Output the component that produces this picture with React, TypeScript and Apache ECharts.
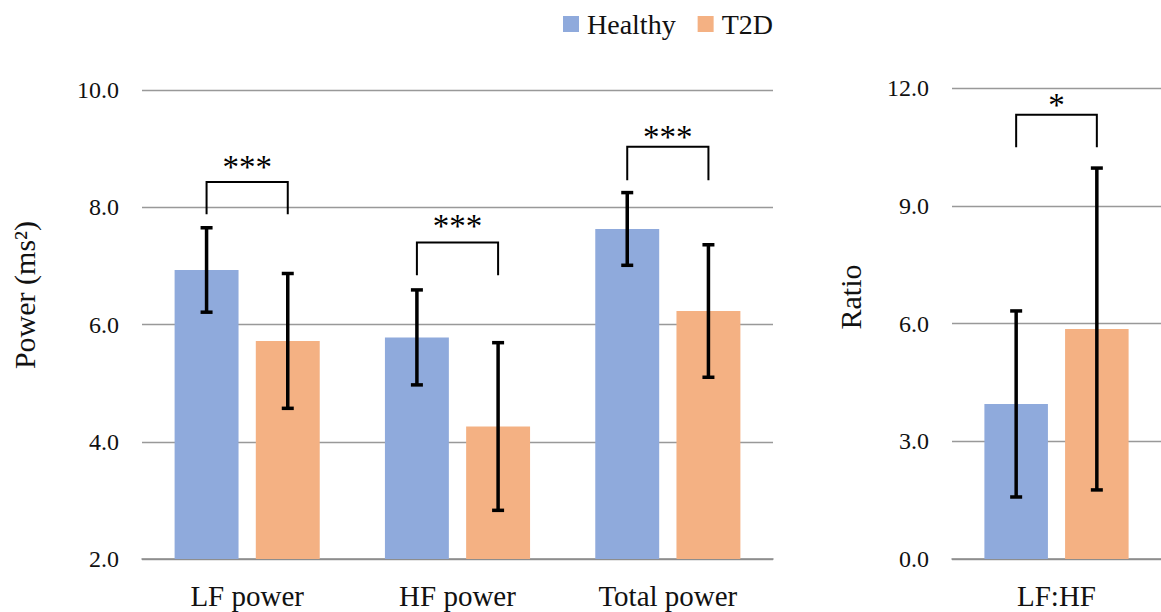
import React, { useEffect, useRef } from "react";
import * as echarts from "echarts";

const categories = ["LF power", "HF power", "Total power"];
const healthyPower = [6.93, 5.78, 7.63];
const healthyPowerErr = [0.72, 0.81, 0.62];
const t2dPower = [5.72, 4.26, 6.23];
const t2dPowerErr = [1.15, 1.43, 1.13];

const ratioCategories = ["LF:HF"];
const healthyRatio = [3.95];
const healthyRatioErr = [2.37];
const t2dRatio = [5.86];
const t2dRatioErr = [4.1];

const powerBracketTop = [8.43, 7.4, 9.03];
const powerBracketBottom = [7.88, 6.84, 8.46];
const powerStarPos = [8.78, 7.77, 9.29];
const powerStars = ["***", "***", "***"];

const ratioBracketTop = [11.32];
const ratioBracketBottom = [10.49];
const ratioStarPos = [11.7];
const ratioStars = ["*"];

const powerTicks = [2, 10, 2];
const ratioTicks = [0, 12, 3];

const BLUE = "#8FAADC";
const ORANGE = "#F4B183";
const FONT = "Liberation Serif";
const BAR_GAP = 0.27;
const CAT_GAP = 0.31;

function barOffset(api: any) {
  const band = api.size([1, 0])[0];
  const bw = (band * (1 - CAT_GAP)) / (2 + BAR_GAP);
  return (bw * (1 + BAR_GAP)) / 2;
}

function errorSeries(name: string, means: number[], errs: number[], side: number, axis: number) {
  return {
    type: "custom",
    name,
    xAxisIndex: axis,
    yAxisIndex: axis,
    z: 5,
    silent: true,
    encode: { x: 0, y: [1, 2] },
    data: means.map((m, i) => [i, m - errs[i], m + errs[i]]),
    renderItem: (params: any, api: any) => {
      const off = barOffset(api) * side;
      const lo = api.coord([api.value(0), api.value(1)]);
      const hi = api.coord([api.value(0), api.value(2)]);
      const x = lo[0] + off;
      const cap = 6;
      const style = { stroke: "#000", lineWidth: 3.5, fill: "none" };
      return {
        type: "group",
        children: [
          { type: "line", shape: { x1: x, y1: lo[1], x2: x, y2: hi[1] }, style },
          { type: "line", shape: { x1: x - cap, y1: lo[1], x2: x + cap, y2: lo[1] }, style },
          { type: "line", shape: { x1: x - cap, y1: hi[1], x2: x + cap, y2: hi[1] }, style },
        ],
      };
    },
  };
}

function bracketSeries(tops: number[], bottoms: number[], starPos: number[], stars: string[], axis: number) {
  return {
    type: "custom",
    xAxisIndex: axis,
    yAxisIndex: axis,
    z: 6,
    silent: true,
    encode: { x: 0, y: [1, 2, 3] },
    data: tops.map((t, i) => [i, t, bottoms[i], starPos[i]]),
    renderItem: (params: any, api: any) => {
      const off = barOffset(api);
      const top = api.coord([api.value(0), api.value(1)]);
      const bot = api.coord([api.value(0), api.value(2)]);
      const star = api.coord([api.value(0), api.value(3)]);
      const x1 = top[0] - off;
      const x2 = top[0] + off;
      return {
        type: "group",
        children: [
          {
            type: "polyline",
            shape: { points: [[x1, bot[1]], [x1, top[1]], [x2, top[1]], [x2, bot[1]]] },
            style: { stroke: "#000", lineWidth: 2, fill: "none" },
          },
          {
            type: "text",
            x: top[0],
            y: star[1] + 5,
            style: {
              text: stars[params.dataIndex],
              fontFamily: FONT,
              fontSize: 33,
              fill: "#000",
              align: "center",
              verticalAlign: "middle",
            },
          },
        ],
      };
    },
  };
}

export default function App() {
  const ref = useRef<HTMLDivElement>(null);
  useEffect(() => {
    const chart = echarts.init(ref.current!, undefined, { renderer: "svg" });
    const axisLabel = { fontFamily: FONT, fontSize: 24, color: "#111", margin: 23, formatter: (v: number) => v.toFixed(1) };
    const catLabel = { fontFamily: FONT, fontSize: 29, color: "#111", margin: 22 };
    const barCommon = { barGap: `${BAR_GAP * 100}%`, barCategoryGap: `${CAT_GAP * 100}%` };
    chart.setOption({
      animation: false,
      textStyle: { fontFamily: FONT },
      legend: {
        data: ["Healthy", "T2D"],
        left: 558,
        top: 5,
        icon: "rect",
        itemWidth: 16,
        itemHeight: 16,
        itemGap: 22,
        textStyle: { fontFamily: FONT, fontSize: 28, color: "#111", padding: [0, 0, 0, 3] },
      },
      grid: [
        { left: 142, top: 90, width: 631, height: 469 },
        { left: 952, top: 88, width: 213, height: 471 },
      ],
      xAxis: [
        {
          type: "category",
          gridIndex: 0,
          data: categories,
          axisTick: { show: false },
          axisLine: { lineStyle: { color: "#8a8a8a", width: 1.5 } },
          axisLabel: catLabel,
        },
        {
          type: "category",
          gridIndex: 1,
          data: ratioCategories,
          axisTick: { show: false },
          axisLine: { lineStyle: { color: "#8a8a8a", width: 1.5 } },
          axisLabel: catLabel,
        },
      ],
      yAxis: [
        {
          type: "value",
          gridIndex: 0,
          min: powerTicks[0],
          max: powerTicks[1],
          interval: powerTicks[2],
          axisLine: { show: false },
          axisTick: { show: false },
          splitLine: { lineStyle: { color: "#999", width: 1.3 } },
          axisLabel,
        },
        {
          type: "value",
          gridIndex: 1,
          min: ratioTicks[0],
          max: ratioTicks[1],
          interval: ratioTicks[2],
          axisLine: { show: false },
          axisTick: { show: false },
          splitLine: { lineStyle: { color: "#999", width: 1.3 } },
          axisLabel,
        },
      ],
      graphic: [
        {
          type: "text",
          x: 24,
          y: 295,
          rotation: Math.PI / 2,
          style: { text: "Power (ms²)", fontFamily: FONT, fontSize: 30, fill: "#111", align: "center", verticalAlign: "middle" },
        },
        {
          type: "text",
          x: 850,
          y: 297,
          rotation: Math.PI / 2,
          style: { text: "Ratio", fontFamily: FONT, fontSize: 30, fill: "#111", align: "center", verticalAlign: "middle" },
        },
      ],
      series: [
        { type: "bar", name: "Healthy", xAxisIndex: 0, yAxisIndex: 0, data: healthyPower, itemStyle: { color: BLUE }, ...barCommon },
        { type: "bar", name: "T2D", xAxisIndex: 0, yAxisIndex: 0, data: t2dPower, itemStyle: { color: ORANGE }, ...barCommon },
        { type: "bar", name: "Healthy", xAxisIndex: 1, yAxisIndex: 1, data: healthyRatio, itemStyle: { color: BLUE }, ...barCommon },
        { type: "bar", name: "T2D", xAxisIndex: 1, yAxisIndex: 1, data: t2dRatio, itemStyle: { color: ORANGE }, ...barCommon },
        errorSeries("Healthy", healthyPower, healthyPowerErr, -1, 0),
        errorSeries("T2D", t2dPower, t2dPowerErr, 1, 0),
        errorSeries("Healthy", healthyRatio, healthyRatioErr, -1, 1),
        errorSeries("T2D", t2dRatio, t2dRatioErr, 1, 1),
        bracketSeries(powerBracketTop, powerBracketBottom, powerStarPos, powerStars, 0),
        bracketSeries(ratioBracketTop, ratioBracketBottom, ratioStarPos, ratioStars, 1),
      ],
    });
    return () => chart.dispose();
  }, []);
  return <div ref={ref} style={{ position: "absolute", left: 0, top: 0, width: 1161, height: 612, background: "#fff" }} />;
}
